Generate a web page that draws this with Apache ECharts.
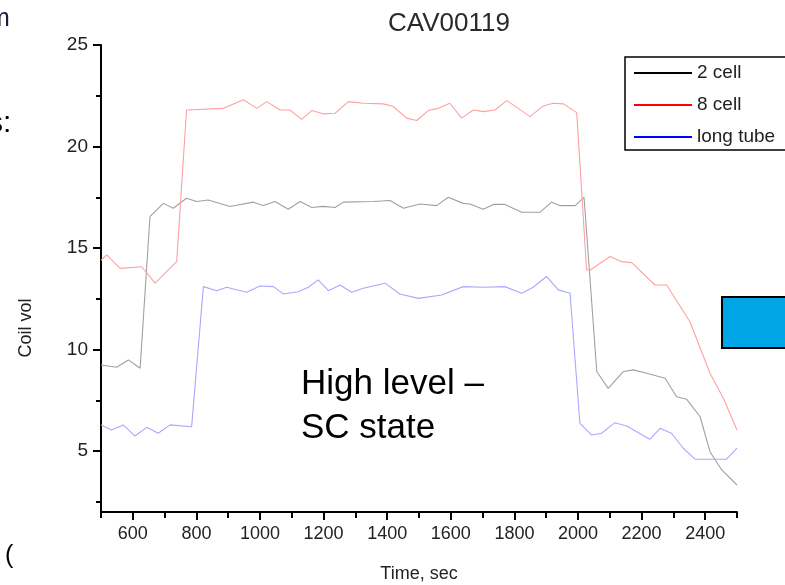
<!DOCTYPE html>
<html>
<head>
<meta charset="utf-8">
<script src="https://cdn.jsdelivr.net/npm/echarts@6/dist/echarts.min.js"></script>
<style>html,body{margin:0;padding:0;background:#fff}#c{width:785px;height:585px}</style>
</head>
<body>
<div id="c"></div>
<script>
const titleText = 'CAV00119';
const seriesNames = ['2 cell', '8 cell', 'long tube'];
const xTickLabels = [600, 800, 1000, 1200, 1400, 1600, 1800, 2000, 2200, 2400];
const xMinorTicks = [500, 700, 900, 1100, 1300, 1500, 1700, 1900, 2100, 2300, 2500];
const yTickLabels = [5, 10, 15, 20, 25];
const yMinorTicks = [2.5, 7.5, 12.5, 17.5, 22.5];

const t2cell = [500,549,586,623,654,696,727,769,801,837,906,979,1010,1047,1089,1126,1163,1199,1236,1262,1356,1409,1451,1503,1555,1592,1639,1660,1702,1734,1770,1823,1880,1917,1943,1991,2019,2038,2059,2095,2143,2174,2216,2274,2310,2342,2384,2415,2452,2500];
const v2cell = [9.24,9.13,9.49,9.08,16.55,17.2,16.96,17.45,17.29,17.37,17.05,17.26,17.1,17.29,16.91,17.29,17.0,17.05,17.0,17.26,17.29,17.34,16.96,17.17,17.09,17.5,17.2,17.17,16.91,17.15,17.15,16.76,16.76,17.26,17.09,17.09,17.5,13.43,8.92,8.09,8.92,9.0,8.83,8.59,7.68,7.55,6.69,4.97,4.07,3.33];

const t8cell = [500,518,560,628,670,738,769,885,948,990,1021,1063,1094,1131,1163,1199,1236,1278,1325,1388,1419,1461,1493,1529,1561,1597,1634,1671,1702,1739,1776,1812,1849,1891,1922,1954,1996,2001,2027,2038,2101,2137,2169,2242,2279,2352,2415,2457,2500];
const v8cell = [14.4,14.66,14.0,14.08,13.27,14.33,21.8,21.88,22.3,21.88,22.21,21.8,21.8,21.34,21.77,21.61,21.64,22.21,22.13,22.1,21.97,21.4,21.28,21.77,21.88,22.13,21.4,21.8,21.72,21.8,22.26,21.88,21.47,22.0,22.13,22.1,21.67,20.4,13.92,13.92,14.58,14.33,14.28,13.18,13.18,11.37,8.83,7.6,6.04];

const tLong = [500,533,570,607,644,680,717,785,822,864,895,958,1000,1042,1073,1120,1152,1183,1215,1252,1288,1325,1393,1440,1498,1571,1639,1702,1770,1823,1859,1901,1938,1975,2006,2043,2074,2116,2153,2226,2258,2294,2331,2368,2467,2500];
const vLong = [6.29,6.04,6.29,5.74,6.17,5.88,6.29,6.2,13.1,12.9,13.07,12.82,13.13,13.1,12.74,12.85,13.07,13.43,12.9,13.18,12.82,13.02,13.27,12.74,12.52,12.69,13.1,13.07,13.1,12.77,13.07,13.6,12.94,12.77,6.37,5.79,5.88,6.4,6.24,5.58,6.12,5.88,5.14,4.6,4.6,5.14];

function pairs(t, v) { return t.map((x, i) => [x, v[i]]); }

const FONT = '"Liberation Sans", Arial, sans-serif';
const chart = echarts.init(document.getElementById('c'), null, {renderer: 'canvas'});

const plotColors = ['#a0a0a0', '#ffa0a0', '#a8a8ff'];
const legendColors = ['#000000', '#ff0000', '#0000ff'];
const dataSets = [pairs(t2cell, v2cell), pairs(t8cell, v8cell), pairs(tLong, vLong)];

const option = {
  animation: false,
  backgroundColor: '#ffffff',
  title: {
    text: titleText,
    left: 444,
    top: 6,
    textAlign: 'center',
    textStyle: {fontFamily: FONT, fontSize: 26, fontWeight: 'normal', color: '#2a2a2a'}
  },
  grid: {left: 101, right: 48, top: 45, bottom: 73, containLabel: false, outerBoundsMode: 'none'},
  legend: {
    left: 625,
    top: 57,
    orient: 'vertical',
    selectedMode: false,
    backgroundColor: '#ffffff',
    borderColor: '#000000',
    borderWidth: 1.5,
    borderRadius: 0,
    padding: [6, 20, 3, 9],
    icon: 'rect',
    itemWidth: 58,
    itemHeight: 2,
    itemGap: 12,
    textStyle: {fontFamily: FONT, fontSize: 19, color: '#222', lineHeight: 20, height: 20},
    data: seriesNames.map((n, i) => ({
      name: n,
      icon: 'rect',
      itemStyle: {color: legendColors[i], opacity: 1, borderWidth: 0}
    }))
  },
  xAxis: [{
    type: 'value', min: 500, max: 2500,
    name: 'Time, sec', nameLocation: 'middle', nameGap: 53,
    nameTextStyle: {fontFamily: FONT, fontSize: 18, color: '#222'},
    axisLine: {show: true, onZero: false, lineStyle: {color: '#000', width: 2}},
    axisTick: {show: true, inside: false, length: 8, customValues: xTickLabels, lineStyle: {color: '#000', width: 2}},
    axisLabel: {show: true, margin: 13, customValues: xTickLabels, formatter: v => String(v), fontFamily: FONT, fontSize: 18, color: '#222'},
    splitLine: {show: false}
  }, {
    type: 'value', min: 500, max: 2500, position: 'bottom',
    axisLine: {show: false},
    axisTick: {show: true, length: 6, customValues: xMinorTicks, lineStyle: {color: '#000', width: 2}},
    axisLabel: {show: false},
    splitLine: {show: false}
  }],
  yAxis: [{
    type: 'value', min: 2, max: 25,
    axisLine: {show: true, onZero: false, lineStyle: {color: '#000', width: 2}},
    axisTick: {show: true, inside: false, length: 8, customValues: yTickLabels, lineStyle: {color: '#000', width: 2}},
    axisLabel: {show: true, margin: 13, customValues: yTickLabels, formatter: v => String(v), fontFamily: FONT, fontSize: 19, color: '#222'},
    splitLine: {show: false}
  }, {
    type: 'value', min: 2, max: 25, position: 'left',
    axisLine: {show: false},
    axisTick: {show: true, length: 5, customValues: yMinorTicks, lineStyle: {color: '#000', width: 2}},
    axisLabel: {show: false},
    splitLine: {show: false}
  }],
  series: seriesNames.map((n, i) => ({
    name: n,
    type: 'line',
    xAxisIndex: 0,
    yAxisIndex: 0,
    symbol: 'none',
    color: legendColors[i],
    lineStyle: {color: plotColors[i], width: 1.1},
    data: dataSets[i]
  })),
  graphic: [
    {
      type: 'text', x: 26, y: 328, rotation: Math.PI / 2,
      style: {text: 'Coil vol', font: '18px ' + FONT, fill: '#222', textAlign: 'center', textVerticalAlign: 'middle'}
    },
    {
      type: 'rect', shape: {x: 722, y: 297, width: 90, height: 51},
      style: {fill: '#00a5e6', stroke: '#000', lineWidth: 2}
    },
    {
      type: 'text', x: 301, y: 406,
      style: {text: 'High level –\nSC state', font: '35px ' + FONT, lineHeight: 44, fill: '#000', textAlign: 'left', textVerticalAlign: 'middle'}
    },
    {
      type: 'text', x: -11, y: 19,
      style: {text: 'm', font: '25px ' + FONT, fill: '#1c1c40', textAlign: 'left', textVerticalAlign: 'middle'}
    },
    {
      type: 'text', x: -12, y: 124,
      style: {text: 's:', font: '30px ' + FONT, fill: '#000', textAlign: 'left', textVerticalAlign: 'middle'}
    },
    {
      type: 'text', x: 5, y: 556,
      style: {text: '(', font: '25px ' + FONT, fill: '#000', textAlign: 'left', textVerticalAlign: 'middle'}
    }
  ]
};
chart.setOption(option);
</script>
</body>
</html>
